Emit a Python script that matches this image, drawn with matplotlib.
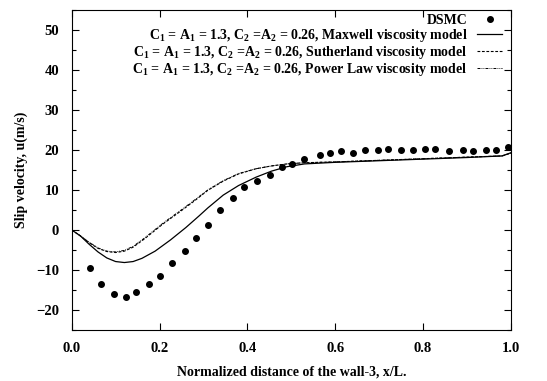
import matplotlib.pyplot as plt
from matplotlib.ticker import MultipleLocator

# DSMC slip velocity along wall-3
dsmc_x = [0.041, 0.067, 0.096, 0.123, 0.147, 0.177, 0.201, 0.228, 0.259, 0.283,
          0.310, 0.338, 0.367, 0.392, 0.422, 0.452, 0.479, 0.501, 0.530, 0.565,
          0.589, 0.614, 0.640, 0.667, 0.697, 0.721, 0.750, 0.777, 0.804, 0.828,
          0.858, 0.890, 0.914, 0.943, 0.967, 0.994]
dsmc_u = [-9.4, -13.6, -16.1, -16.7, -15.6, -13.5, -11.6, -8.2, -5.3, -1.9,
          1.25, 5.1, 7.9, 10.7, 12.2, 13.7, 15.8, 16.4, 17.8, 18.7,
          19.2, 19.8, 19.3, 20.0, 19.9, 20.3, 19.9, 19.9, 20.2, 20.2,
          19.7, 20.1, 19.7, 19.9, 20.0, 20.7]

# Maxwell viscosity model
maxwell_x = [0.0, 0.02, 0.04, 0.06, 0.08, 0.10, 0.12, 0.14, 0.16, 0.19, 0.225,
             0.26, 0.29, 0.31, 0.345, 0.38, 0.42, 0.455, 0.49, 0.53, 0.6, 0.7,
             0.8, 0.9, 0.98, 1.0]
maxwell_u = [0.0, -1.5, -3.6, -5.5, -7.0, -7.9, -8.15, -7.9, -7.1, -5.3, -2.5,
             0.6, 3.5, 5.5, 8.7, 11.1, 13.2, 14.7, 15.8, 16.5, 16.9, 17.3,
             17.7, 18.1, 18.5, 19.3]

# Sutherland viscosity model
suth_x = [0.0, 0.02, 0.04, 0.06, 0.08, 0.10, 0.12, 0.14, 0.165, 0.208, 0.252,
          0.28, 0.31, 0.345, 0.38, 0.42, 0.455, 0.49, 0.53, 0.6, 0.7, 0.8,
          0.9, 0.98, 1.0]
suth_u = [0.0, -1.5, -3.2, -4.6, -5.4, -5.65, -5.3, -4.3, -2.3, 1.5, 5.0,
          7.3, 9.9, 12.2, 14.0, 15.3, 16.0, 16.5, 16.8, 17.0, 17.4, 17.8,
          18.2, 18.5, 19.2]

# Power Law viscosity model
power_x = [0.0, 0.02, 0.04, 0.06, 0.08, 0.10, 0.12, 0.14, 0.165, 0.208, 0.252,
           0.28, 0.31, 0.345, 0.38, 0.42, 0.455, 0.49, 0.53, 0.6, 0.7, 0.8,
           0.9, 0.98, 1.0]
power_u = [0.0, -1.5, -3.1, -4.5, -5.3, -5.5, -5.1, -4.1, -2.1, 1.7, 5.2,
           7.5, 10.0, 12.3, 14.1, 15.3, 16.0, 16.5, 16.8, 17.0, 17.4, 17.8,
           18.2, 18.5, 19.2]

prefix = r"C$_1$ = A$_1$ = 1.3, C$_2$ =A$_2$ = 0.26, "

plt.rcParams['font.family'] = ['Liberation Serif', 'DejaVu Serif']
plt.rcParams['font.weight'] = 'bold'
plt.rcParams['mathtext.fontset'] = 'custom'
plt.rcParams['mathtext.rm'] = 'Liberation Serif:bold'
plt.rcParams['mathtext.it'] = 'Liberation Serif:bold'
plt.rcParams['mathtext.default'] = 'rm'

fig = plt.figure(figsize=(5.47, 3.81), dpi=100)
ax = fig.add_axes([0.131, 0.134, 0.803, 0.840])

ax.plot(dsmc_x, dsmc_u, 'o', color='black', markersize=4.0, label='DSMC')
ax.plot(maxwell_x, maxwell_u, '-', color='black', lw=0.9,
        label=prefix + 'Maxwell viscosity model')
ax.plot(suth_x, suth_u, color='black', lw=0.8, linestyle=(0, (2.5, 1.5)),
        label=prefix + 'Sutherland viscosity model')
ax.plot(power_x, power_u, color='black', lw=0.7,
        linestyle=(0, (3, 1.2, 0.8, 1.2, 0.8, 1.2)),
        label=prefix + 'Power Law viscosity model')

ax.set_xlim(0, 1)
ax.set_ylim(-25, 55)
ax.xaxis.set_major_locator(MultipleLocator(0.2))
ax.yaxis.set_major_locator(MultipleLocator(10))
ax.yaxis.set_minor_locator(MultipleLocator(5))
ax.xaxis.set_major_formatter(plt.FormatStrFormatter('%.1f'))
ax.tick_params(which='both', direction='in', top=True, right=True,
               labelsize=10.5, width=0.8)
ax.tick_params(which='major', length=5)
ax.tick_params(axis='x', which='major', pad=9)
ax.tick_params(axis='y', which='major', pad=9)
ax.tick_params(which='minor', length=3)

ax.set_xlabel('Normalized distance of the wall-3, x/L.', fontsize=10,
              fontweight='bold', labelpad=7)
ax.set_ylabel('Slip velocity, u(m/s)', fontsize=10, fontweight='bold',
              labelpad=6)

ax.legend(loc='upper right', frameon=False, markerfirst=False, fontsize=10,
          handlelength=1.8, handletextpad=0.7, labelspacing=0.0,
          borderaxespad=0.1, borderpad=0.2, numpoints=1,
          bbox_to_anchor=(0.99, 1.0))

fig.savefig('out.png', dpi=100)
